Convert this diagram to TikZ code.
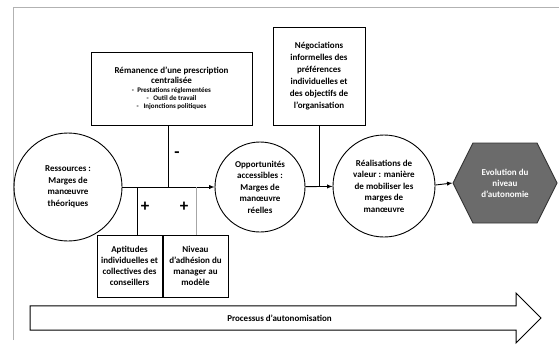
\documentclass[tikz,border=0pt]{standalone}
\usepackage{fontspec}
\setmainfont{Carlito}
\usetikzlibrary{shapes.symbols,shapes.arrows,arrows}

\tikzset{
  rond/.style={draw,circle,align=center,inner sep=0pt,font=\bfseries\fontsize{9}{11.5}\selectfont},
  boite/.style={draw,rectangle,align=center,inner sep=0pt,font=\bfseries\fontsize{9}{11}\selectfont},
  signe/.style={font=\bfseries\fontsize{17}{17}\selectfont},
  fleche/.style={-latex}
}

\begin{document}
\begin{tikzpicture}[x=1pt,y=-1pt,line width=0.9pt]
            \useasboundingbox (0,0) rectangle (559,349);
            \draw[gray!60,line width=0.7pt] (13,340) -- (13,7) -- (559,7);

            % les quatre etapes
            \node[rond,minimum size=108pt] (res) at (68,187) {Ressources :\\Marges de\\manœuvre\\théoriques};
            \node[rond,minimum size=90pt] (opp) at (260,187) {Opportunités\\accessibles :\\Marges de\\manœuvre\\réelles};
            \node[rond,minimum size=102pt] (real) at (384,186) {Réalisations de\\valeur : manière\\de mobiliser les\\marges de\\manœuvre};
            \node[signal,signal to=west and east,signal pointer angle=127,draw=black!80,fill=black!58,
                  minimum width=104pt,minimum height=80pt,inner sep=0pt,align=center,text=white,
                  font=\bfseries\fontsize{9}{11}\selectfont] (evo) at (505,183) {Evolution du\\niveau\\d’autonomie};

            % les facteurs
            \node[boite,minimum width=161pt,minimum height=73pt,font=\bfseries\fontsize{7}{8.3}\selectfont] (rem) at (171.5,88.5)
                 {{\fontsize{9}{10}\selectfont Rémanence d’une prescription}\\[1.5pt]{\fontsize{9}{10}\selectfont centralisée}\\[0.5pt]
                  -~~Prestations réglementées\\-~~~Outil de travail\\-~~~Injonctions politiques};
            \node[boite,minimum width=92pt,minimum height=98pt,font=\bfseries\fontsize{9}{12}\selectfont] (nego) at (319,76)
                 {Négociations\\informelles des\\préférences\\individuelles et\\des objectifs de\\l’organisation};
            \node[boite,minimum width=65pt,minimum height=62pt] (apt) at (129.5,266) {Aptitudes\\individuelles et\\collectives des\\conseillers};
            \node[boite,minimum width=65pt,minimum height=62pt] (adh) at (195.5,266) {Niveau\\d’adhésion du\\manager au\\modèle};

            \coordinate (j1) at (168,187);
            \coordinate (j2) at (137,187);
            \coordinate (j3) at (196,187);

            \draw[fleche] (res) -- (opp);
            \draw (j1 |- rem.south) -- (j1);
            \draw (j2) -- (j2 |- apt.north);
            \draw[gray!70] (j3) -- (j3 |- adh.north);
            \draw[fleche] (opp) -- (real);
            \draw (nego.south) -- (nego.south |- opp.east);
            \draw[fleche] (real.east |- 0,185) -- (evo.west);

            \node[signe] at (177,155) {-};
            \node[signe] at (145,207) {+};
            \node[signe] at (184,207) {+};

            % processus
            \node[single arrow,draw,minimum height=511pt,minimum width=50pt,single arrow head extend=12.5pt,
                  inner xsep=0pt,inner ysep=8pt,font=\bfseries\fontsize{9}{10}\selectfont] (proc) at (279.5,318) {Processus d’autonomisation};
          \end{tikzpicture}
\end{document}
